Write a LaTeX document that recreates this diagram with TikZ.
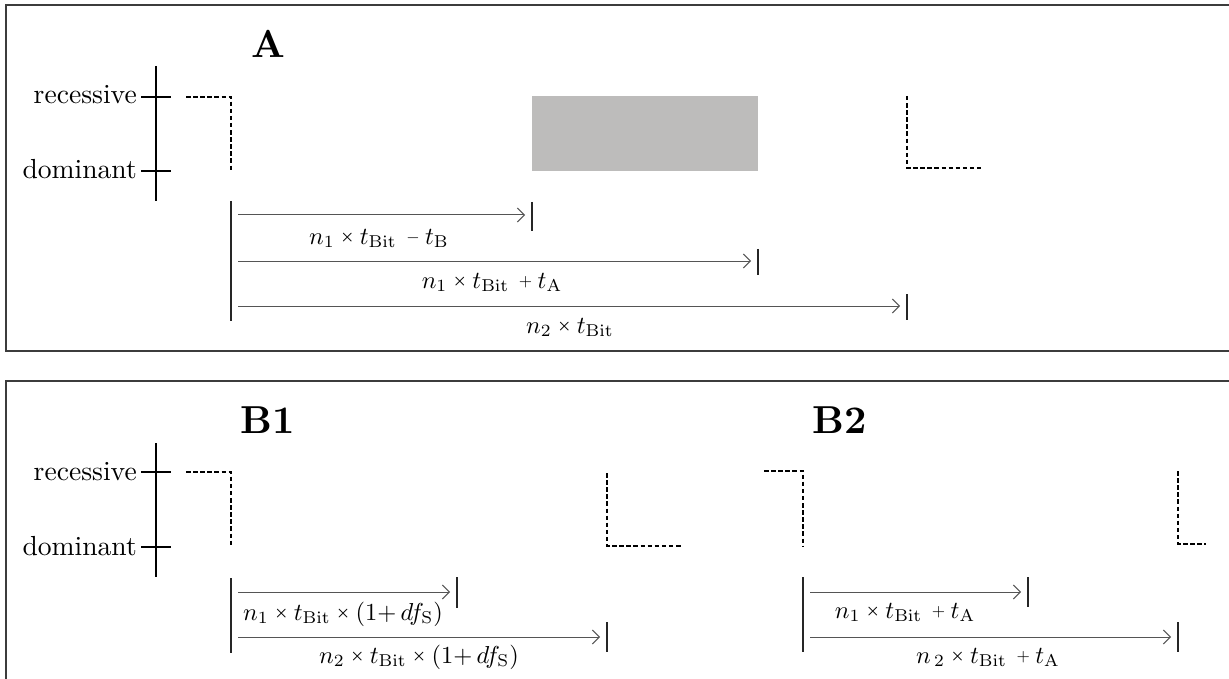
\documentclass[tikz,border=0pt]{standalone}
\usepackage{amsmath}
\usetikzlibrary{arrows.meta}

\definecolor{blockgray}{RGB}{189,188,187}
\definecolor{framegray}{RGB}{60,60,60}
\definecolor{linegray}{RGB}{85,85,85}

% small bold multiplication sign and compact plus/minus for the timing formulas
\newcommand{\mx}{\mathbin{\vcenter{\hbox{\scalebox{0.64}{$\boldsymbol{\times}$}}}}}
\newcommand{\mplus}{\mathbin{\vcenter{\hbox{\scalebox{0.7}{$+$}}}}}
\newcommand{\mminus}{\mathbin{\vcenter{\hbox{\scalebox{0.7}{$-$}}}}}
\newcommand{\sub}[1]{_{\mathrm{#1}}}
% text set at 10pt and enlarged to the drawing's scale
\newcommand{\formula}[1]{\scalebox{2.45}{$#1$}}
\newcommand{\levtext}[1]{\scalebox{2.76}{#1}}
\newcommand{\ttltext}[1]{\scalebox{3.9}{\bfseries #1}}

\tikzset{
  panelframe/.style={draw=framegray, line width=2pt},
  levelaxis/.style={draw=black, line width=1.1pt},
  signal/.style={draw=black, line width=1.4pt, dash pattern=on 4.5pt off 2.6pt},
  refline/.style={draw=black!85, line width=1.2pt},
  endbar/.style={draw=black!85, line width=1.2pt},
  dimarrow/.style={draw=linegray, line width=1pt,
    -{Straight Barb[length=7pt, width=14pt, line width=1pt]}},
  sample/.style={fill=blockgray, draw=none},
  lbl/.style={anchor=base, inner sep=0pt},
  paneltitle/.style={anchor=base, inner sep=0pt},
  levelname/.style={anchor=base east, inner sep=0pt},
}

\begin{document}
\begin{tikzpicture}[x=1pt, y=-1pt]
\useasboundingbox (0,0) rectangle (1229,679);
\clip (0,0) rectangle (1229,679);

% ------------------------------------------------------------------ panel A
\draw[panelframe] (6,5) rectangle (1240,351);
\node[paneltitle] (tA) at (268,58) {\ttltext{A}};

% level axis
\coordinate (axAt) at (156,66);
\coordinate (axAb) at (156,201);
\draw[levelaxis] (axAt) -- (axAb);
\coordinate (recAl) at (141,97);  \coordinate (recAr) at (171,97);
\coordinate (domAl) at (141,171); \coordinate (domAr) at (171,171);
\draw[levelaxis] (recAl) -- (recAr);
\draw[levelaxis] (domAl) -- (domAr);
\node[levelname] (recA) at (137,104) {\levtext{recessive}};
\node[levelname] (domA) at (137,179) {\levtext{dominant}};

% falling edge and rising edge of the bus level
\coordinate (fA1) at (186,97); \coordinate (fA2) at (231,97); \coordinate (fA3) at (231,172);
\draw[signal] (fA1) -- (fA2) -- (fA3);
\coordinate (rA1) at (907,96); \coordinate (rA2) at (907,168); \coordinate (rA3) at (981,168);
\draw[signal] (rA1) -- (rA2) -- (rA3);

% sampling window
\node[sample, minimum width=226pt, minimum height=75pt, inner sep=0pt, anchor=north west]
  (winA) at (532,96) {};

% time reference and measured intervals
\coordinate (refAt) at (231,201); \coordinate (refAb) at (231,321);
\draw[refline] (refAt) -- (refAb);

\coordinate (a1s) at (238,215); \coordinate (a1e) at (525,215);
\coordinate (b1t) at (532,202); \coordinate (b1b) at (532,231);
\draw[dimarrow] (a1s) -- (a1e);
\draw[endbar] (b1t) -- (b1b);
\node[lbl] (l1) at (379,244) {\formula{n_1\mx t\sub{Bit}\,\mminus t\sub{B}}};

\coordinate (a2s) at (238,261); \coordinate (a2e) at (751,261);
\coordinate (b2t) at (758,249); \coordinate (b2b) at (758,275);
\draw[dimarrow] (a2s) -- (a2e);
\draw[endbar] (b2t) -- (b2b);
\node[lbl] (l2) at (492,288) {\formula{n_1\mx t\sub{Bit}\,\mplus t\sub{A}}};

\coordinate (a3s) at (238,306); \coordinate (a3e) at (900,306);
\coordinate (b3t) at (907,294); \coordinate (b3b) at (907,320);
\draw[dimarrow] (a3s) -- (a3e);
\draw[endbar] (b3t) -- (b3b);
\node[lbl] (l3) at (570,333) {\formula{n_2\mx t\sub{Bit}}};

% ------------------------------------------------------------------ panel B
\draw[panelframe] (6,381) rectangle (1240,700);
\node[paneltitle] (tB1) at (268,433) {\ttltext{B1}};
\node[paneltitle] (tB2) at (840,433) {\ttltext{B2}};

% level axis
\coordinate (axBt) at (156,443);
\coordinate (axBb) at (156,577);
\draw[levelaxis] (axBt) -- (axBb);
\coordinate (recBl) at (141,472); \coordinate (recBr) at (171,472);
\coordinate (domBl) at (141,547); \coordinate (domBr) at (171,547);
\draw[levelaxis] (recBl) -- (recBr);
\draw[levelaxis] (domBl) -- (domBr);
\node[levelname] (recB) at (137,480) {\levtext{recessive}};
\node[levelname] (domB) at (137,555) {\levtext{dominant}};

% B1: edges
\coordinate (fB1) at (186,472); \coordinate (fB2) at (231,472); \coordinate (fB3) at (231,547);
\draw[signal] (fB1) -- (fB2) -- (fB3);
\coordinate (rB1) at (607,473); \coordinate (rB2) at (607,546); \coordinate (rB3) at (681,546);
\draw[signal] (rB1) -- (rB2) -- (rB3);

% B1: intervals
\coordinate (refB1t) at (231,578); \coordinate (refB1b) at (231,653);
\draw[refline] (refB1t) -- (refB1b);

\coordinate (c1s) at (238,592); \coordinate (c1e) at (450,592);
\coordinate (d1t) at (457,577); \coordinate (d1b) at (457,608);
\draw[dimarrow] (c1s) -- (c1e);
\draw[endbar] (d1t) -- (d1b);
\node[lbl] (m1) at (343,620) {\formula{n_1\mx t\sub{Bit}\mx(1{+}\,d\!f\sub{S})}};

\coordinate (c2s) at (238,637); \coordinate (c2e) at (600,637);
\coordinate (d2t) at (607,622); \coordinate (d2b) at (607,652);
\draw[dimarrow] (c2s) -- (c2e);
\draw[endbar] (d2t) -- (d2b);
\node[lbl] (m2) at (419,663) {\formula{n_2\mx t\sub{Bit}\mx(1{+}\,d\!f\sub{S})}};

% B2: edges
\coordinate (fC1) at (764,471); \coordinate (fC2) at (803,471); \coordinate (fC3) at (803,547);
\draw[signal] (fC1) -- (fC2) -- (fC3);
\coordinate (rC1) at (1178,471); \coordinate (rC2) at (1178,544); \coordinate (rC3) at (1206,544);
\draw[signal] (rC1) -- (rC2) -- (rC3);

% B2: intervals
\coordinate (refB2t) at (803,577); \coordinate (refB2b) at (803,652);
\draw[refline] (refB2t) -- (refB2b);

\coordinate (e1s) at (810,592); \coordinate (e1e) at (1021,592);
\coordinate (g1t) at (1028,577); \coordinate (g1b) at (1028,607);
\draw[dimarrow] (e1s) -- (e1e);
\draw[endbar] (g1t) -- (g1b);
\node[lbl] (k1) at (905,618) {\formula{n_1\mx t\sub{Bit}\,\mplus t\sub{A}}};

\coordinate (e2s) at (810,637); \coordinate (e2e) at (1171,637);
\coordinate (g2t) at (1178,622); \coordinate (g2b) at (1178,652);
\draw[dimarrow] (e2s) -- (e2e);
\draw[endbar] (g2t) -- (g2b);
\node[lbl] (k2) at (988,663) {\formula{n_{\,2}\mx t\sub{Bit}\,\mplus t\sub{A}}};
\end{tikzpicture}
\end{document}
